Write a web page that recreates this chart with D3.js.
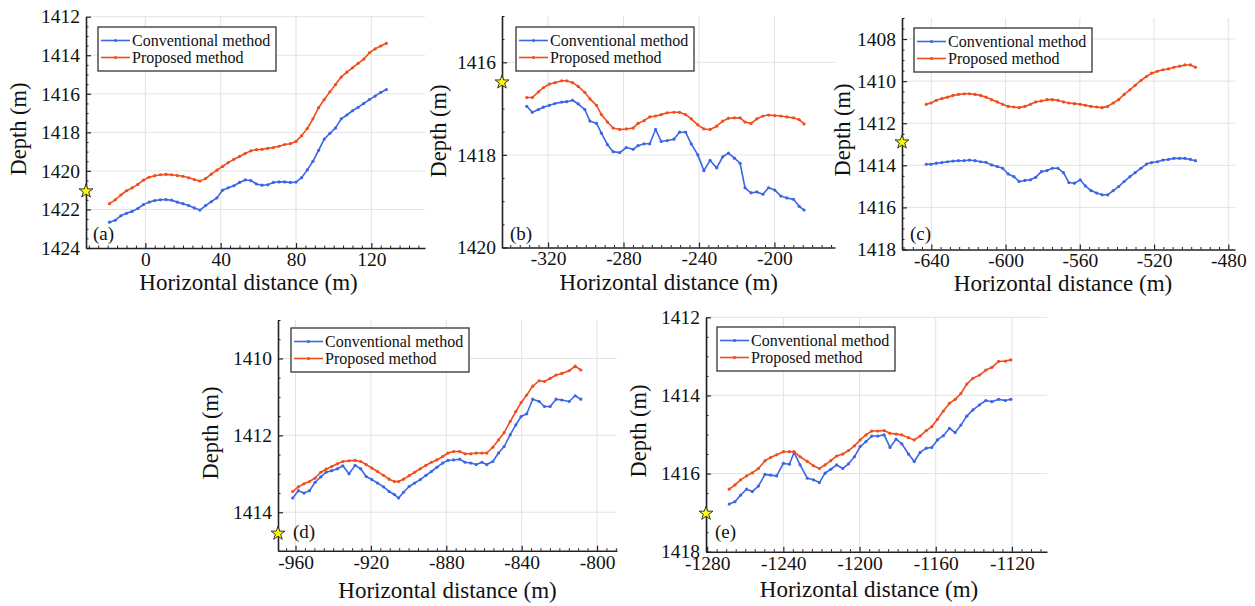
<!DOCTYPE html>
<html>
<head>
<meta charset="utf-8">
<script src="https://cdn.jsdelivr.net/npm/d3@7/dist/d3.min.js"></script>
<style>
  html, body { margin: 0; padding: 0; background: #fff; }
  svg { display: block; }
  text { font-family: "Liberation Serif", "Times New Roman", serif; fill: #111; }
</style>
</head>
<body>
<svg id="chart" width="1255" height="606"></svg>
<script>
// ---------------- DATA ----------------
const seriesNames = ["Conventional method", "Proposed method"];
const panelLabels = ["(a)", "(b)", "(c)", "(d)", "(e)"];
const xTitle = "Horizontal distance (m)";
const yTitle = "Depth (m)";

// panel (a)
const dist_a = [-19,-16,-13,-10,-7,-4,-1,2,5,8,11,14,17,20,23,26,29,32,35,38,41,44,47,50,53,56,59,62,65,68,71,74,77,80,83,86,89,92,95,98,101,104,107,110,113,116,119,122,125,128];
const conv_a = [1422.66,1422.56,1422.33,1422.2,1422.1,1421.95,1421.75,1421.62,1421.54,1421.5,1421.49,1421.52,1421.62,1421.7,1421.8,1421.92,1422.03,1421.8,1421.6,1421.4,1421.0,1420.88,1420.77,1420.6,1420.47,1420.5,1420.68,1420.74,1420.72,1420.6,1420.57,1420.57,1420.6,1420.58,1420.35,1419.95,1419.5,1418.93,1418.35,1418.05,1417.77,1417.3,1417.1,1416.88,1416.7,1416.5,1416.3,1416.12,1415.93,1415.78];
const prop_a = [1421.7,1421.5,1421.25,1421.03,1420.88,1420.7,1420.48,1420.33,1420.25,1420.2,1420.18,1420.2,1420.24,1420.28,1420.36,1420.45,1420.53,1420.4,1420.17,1419.96,1419.77,1419.57,1419.4,1419.25,1419.1,1418.96,1418.9,1418.88,1418.83,1418.79,1418.72,1418.63,1418.59,1418.47,1418.17,1417.8,1417.3,1416.72,1416.3,1415.9,1415.52,1415.13,1414.88,1414.65,1414.42,1414.2,1413.87,1413.67,1413.52,1413.38];
const xTicks_a = [0, 40, 80, 120];
const yTicks_a = [1412, 1414, 1416, 1418, 1420, 1422, 1424];

// panel (b)
const dist_b = [-331.3,-328.3,-325.1,-322.5,-319.3,-316.3,-312.8,-310.1,-307,-304,-300.5,-297.8,-294.3,-291.7,-288.5,-285.5,-282,-278.5,-274.9,-272.3,-269.1,-266.1,-263,-260,-256.8,-253.3,-250.3,-247.1,-244.1,-240.6,-237.4,-234.1,-230.6,-227.4,-224.4,-221.2,-218.2,-215.6,-212.4,-209.3,-206.1,-203.1,-199.8,-196.6,-193.4,-189.9,-186.9,-184.3];
const conv_b = [1416.95,1417.08,1417.02,1416.97,1416.93,1416.89,1416.86,1416.85,1416.82,1416.9,1417.02,1417.27,1417.32,1417.53,1417.78,1417.93,1417.95,1417.84,1417.88,1417.8,1417.76,1417.76,1417.45,1417.71,1417.69,1417.66,1417.51,1417.51,1417.76,1418.0,1418.34,1418.12,1418.28,1418.04,1417.96,1418.07,1418.18,1418.71,1418.82,1418.8,1418.85,1418.71,1418.76,1418.89,1418.93,1418.96,1419.11,1419.19];
const prop_b = [1416.76,1416.76,1416.64,1416.55,1416.47,1416.44,1416.4,1416.4,1416.44,1416.52,1416.65,1416.79,1416.93,1417.13,1417.29,1417.42,1417.45,1417.44,1417.42,1417.32,1417.26,1417.18,1417.16,1417.13,1417.09,1417.08,1417.08,1417.13,1417.22,1417.35,1417.44,1417.45,1417.38,1417.27,1417.21,1417.2,1417.2,1417.29,1417.32,1417.22,1417.16,1417.14,1417.15,1417.16,1417.18,1417.2,1417.24,1417.33];
const xTicks_b = [-320, -280, -240, -200];
const yTicks_b = [1416, 1418, 1420];

// panel (c)
const dist_c = [-642.7,-640.2,-637.3,-634.3,-631.3,-628.4,-625.4,-622.3,-619.5,-616.4,-613.4,-610.5,-607.5,-604.5,-601.6,-598.6,-595.5,-592.7,-589.6,-586.6,-583.8,-580.7,-577.7,-574.8,-571.8,-568.8,-565.9,-562.9,-559.8,-557,-554,-550.9,-548,-545,-542,-539.1,-536.1,-533,-530.2,-527.1,-524.1,-521.3,-518.2,-515.2,-512.3,-509.3,-506.3,-503.4,-500.4,-497.7];
const conv_c = [1413.95,1413.95,1413.9,1413.87,1413.83,1413.8,1413.78,1413.78,1413.75,1413.78,1413.83,1413.86,1413.98,1414.06,1414.14,1414.41,1414.54,1414.77,1414.72,1414.69,1414.57,1414.3,1414.25,1414.14,1414.14,1414.35,1414.82,1414.85,1414.69,1414.98,1415.2,1415.32,1415.4,1415.4,1415.2,1415.01,1414.77,1414.54,1414.35,1414.14,1413.94,1413.87,1413.83,1413.75,1413.72,1413.67,1413.67,1413.67,1413.72,1413.78];
const prop_c = [1411.1,1411.04,1410.91,1410.83,1410.76,1410.68,1410.63,1410.6,1410.6,1410.63,1410.68,1410.76,1410.88,1410.99,1411.1,1411.2,1411.23,1411.26,1411.2,1411.1,1410.99,1410.94,1410.88,1410.88,1410.91,1410.99,1411.04,1411.07,1411.1,1411.15,1411.2,1411.23,1411.26,1411.2,1411.04,1410.88,1410.63,1410.41,1410.2,1409.97,1409.78,1409.62,1409.53,1409.46,1409.42,1409.34,1409.29,1409.23,1409.23,1409.34];
const xTicks_c = [-640, -600, -560, -520, -480];
const yTicks_c = [1408, 1410, 1412, 1414, 1416, 1418];

// panel (d)
const dist_d = [-961.5,-958.5,-955.5,-952.6,-949.6,-946.6,-943.8,-940.8,-937.8,-934.9,-931.6,-928.4,-925.4,-922.5,-919.5,-916.5,-913.3,-910.3,-907.5,-905.3,-902.7,-899.7,-896.8,-893.8,-890.8,-887.9,-885,-881.9,-879.1,-876.1,-872.9,-870,-867,-864.1,-861.1,-858.5,-855.3,-852.3,-849.3,-846.1,-843.1,-840.3,-837.3,-834.1,-830.7,-827.9,-824.9,-821.7,-818.7,-814.8,-811.6,-808.6];
const conv_d = [1413.63,1413.44,1413.5,1413.44,1413.22,1413.08,1412.96,1412.92,1412.87,1412.79,1413.0,1412.78,1412.87,1413.07,1413.15,1413.24,1413.34,1413.46,1413.54,1413.63,1413.48,1413.33,1413.24,1413.15,1413.04,1412.94,1412.83,1412.72,1412.65,1412.64,1412.62,1412.7,1412.72,1412.76,1412.7,1412.76,1412.68,1412.46,1412.29,1411.99,1411.73,1411.51,1411.44,1411.06,1411.12,1411.25,1411.25,1411.06,1411.08,1411.12,1410.97,1411.06];
const prop_d = [1413.46,1413.34,1413.26,1413.2,1413.11,1412.96,1412.88,1412.81,1412.74,1412.68,1412.66,1412.65,1412.68,1412.76,1412.85,1412.94,1413.04,1413.14,1413.2,1413.2,1413.14,1413.05,1412.96,1412.87,1412.78,1412.7,1412.64,1412.55,1412.46,1412.42,1412.42,1412.48,1412.48,1412.46,1412.46,1412.46,1412.31,1412.12,1411.93,1411.64,1411.38,1411.15,1410.95,1410.72,1410.58,1410.6,1410.52,1410.43,1410.39,1410.32,1410.2,1410.3];
const xTicks_d = [-960, -920, -880, -840, -800];
const yTicks_d = [1410, 1412, 1414];

// panel (e)
const dist_e = [-1268.4,-1265.4,-1262.4,-1259.3,-1256.3,-1253.1,-1249.6,-1246.7,-1243.5,-1240,-1236.8,-1234.4,-1231.2,-1227.4,-1224.2,-1221.1,-1218.1,-1215.1,-1212,-1208.8,-1205.8,-1202.7,-1199.7,-1196.6,-1193.6,-1190.4,-1187.1,-1184,-1180.8,-1177.8,-1174.3,-1171.3,-1168.2,-1165,-1162.1,-1159.1,-1156,-1152.8,-1149.8,-1146.8,-1143.7,-1140.5,-1137,-1133.7,-1130.5,-1127,-1123.5,-1120.6];
const conv_e = [1416.78,1416.72,1416.55,1416.4,1416.46,1416.32,1416.02,1416.04,1416.06,1415.74,1415.76,1415.46,1415.78,1416.12,1416.16,1416.23,1415.99,1415.89,1415.78,1415.87,1415.75,1415.57,1415.31,1415.18,1415.04,1415.04,1415.01,1415.33,1415.12,1415.24,1415.5,1415.69,1415.46,1415.35,1415.33,1415.14,1415.03,1414.84,1414.95,1414.76,1414.53,1414.37,1414.24,1414.13,1414.16,1414.1,1414.13,1414.1];
const prop_e = [1416.4,1416.29,1416.16,1416.06,1415.98,1415.87,1415.67,1415.59,1415.52,1415.44,1415.44,1415.44,1415.57,1415.69,1415.8,1415.87,1415.78,1415.67,1415.55,1415.5,1415.41,1415.29,1415.14,1415.01,1414.91,1414.91,1414.9,1414.97,1414.99,1415.01,1415.08,1415.14,1415.04,1414.9,1414.8,1414.61,1414.4,1414.2,1414.1,1413.95,1413.71,1413.56,1413.48,1413.35,1413.28,1413.13,1413.12,1413.09];
const xTicks_e = [-1280, -1240, -1200, -1160, -1120];
const yTicks_e = [1412, 1414, 1416, 1418];

// star marker depth on the left axis of each panel
const starDepth = [1421.05, 1416.43, 1412.9, 1414.55, 1417.02];

// ---------------- LAYOUT / STYLE ----------------
const colors = ["#3a66e6", "#f04c1c"];
const panels = [
  { dist: dist_a, conv: conv_a, prop: prop_a, xTicks: xTicks_a, yTicks: yTicks_a,
    xd: [-31.5, 148.5], yd: [1412, 1424], xr: [86, 425], yr: [16.7, 248],
    leg: [98, 27], lab: [93, 240], xt: [248.5, 290], yt: [18, 129] },
  { dist: dist_b, conv: conv_b, prop: prop_b, xTicks: xTicks_b, yTicks: yTicks_b,
    xd: [-344.4, -167.9], yd: [1415, 1420], xr: [502, 835], yr: [16, 247.5],
    leg: [516, 27], lab: [510, 240], xt: [668.8, 290], yt: [438, 131] },
  { dist: dist_c, conv: conv_c, prop: prop_c, xTicks: xTicks_c, yTicks: yTicks_c,
    xd: [-655.8, -476.4], yd: [1407, 1418], xr: [902, 1235], yr: [18, 249.5],
    leg: [914, 28], lab: [910, 240], xt: [1063, 291], yt: [842, 130] },
  { dist: dist_d, conv: conv_d, prop: prop_d, xTicks: xTicks_d, yTicks: yTicks_d,
    xd: [-969.3, -789.4], yd: [1409, 1415], xr: [278, 617], yr: [320, 550.7],
    leg: [291, 328], lab: [293, 538], xt: [447.5, 598], yt: [210, 433] },
  { dist: dist_e, conv: conv_e, prop: prop_e, xTicks: xTicks_e, yTicks: yTicks_e,
    xd: [-1280.6, -1101.6], yd: [1412, 1418], xr: [706, 1047], yr: [317.3, 551.7],
    leg: [717, 327], lab: [715, 538], xt: [869, 597], yt: [638, 431] }
];

const svg = d3.select("#chart");

panels.forEach((p, i) => {
  const g = svg.append("g");
  const x = d3.scaleLinear().domain(p.xd).range(p.xr);
  const y = d3.scaleLinear().domain(p.yd).range(p.yr);
  const [x0, x1] = p.xr, [y0, y1] = p.yr;

  // grid
  g.append("g").selectAll("line").data(p.xTicks.filter(t => x(t) > x0 + 1 && x(t) <= x1 + 0.5))
    .join("line").attr("x1", d => x(d)).attr("x2", d => x(d)).attr("y1", y0).attr("y2", y1)
    .attr("stroke", "#e3e3e3").attr("stroke-width", 1);
  g.append("g").selectAll("line").data(p.yTicks.filter(t => y(t) < y1 - 1))
    .join("line").attr("x1", x0).attr("x2", x1).attr("y1", d => y(d)).attr("y2", d => y(d))
    .attr("stroke", "#e3e3e3").attr("stroke-width", 1);

  // minor ticks
  const xMinor = d3.range(Math.ceil(p.xd[0] / 5) * 5, p.xd[1] + 0.001, 5).filter(v => !p.xTicks.includes(v));
  const yMinor = d3.range(Math.ceil(p.yd[0] * 2) / 2, p.yd[1] + 0.001, 0.5).filter(v => !p.yTicks.includes(v));
  g.append("g").attr("transform", `translate(0,${y1})`)
    .call(d3.axisBottom(x).tickValues(xMinor).tickSizeInner(-2.5).tickSizeOuter(0).tickFormat(""))
    .call(s => s.select(".domain").remove())
    .selectAll("line").attr("stroke", "#222").attr("stroke-width", 1);
  g.append("g").attr("transform", `translate(${x0},0)`)
    .call(d3.axisLeft(y).tickValues(yMinor).tickSizeInner(-2.5).tickSizeOuter(0).tickFormat(""))
    .call(s => s.select(".domain").remove())
    .selectAll("line").attr("stroke", "#222").attr("stroke-width", 1);

  // major axes
  const ax = g.append("g").attr("transform", `translate(0,${y1})`)
    .call(d3.axisBottom(x).tickValues(p.xTicks).tickSizeInner(-5).tickSizeOuter(0).tickPadding(4).tickFormat(d => String(d)));
  const ay = g.append("g").attr("transform", `translate(${x0},0)`)
    .call(d3.axisLeft(y).tickValues(p.yTicks).tickSizeInner(-5).tickSizeOuter(0).tickPadding(6).tickFormat(d => String(d)));
  [ax, ay].forEach(a => {
    a.select(".domain").attr("stroke", "#222").attr("stroke-width", 1.6);
    a.selectAll(".tick line").attr("stroke", "#222").attr("stroke-width", 1.2);
    a.selectAll(".tick text").attr("font-size", 19.5).attr("fill", "#111");
  });

  // lines with dot markers
  [p.conv, p.prop].forEach((vals, k) => {
    const pts = p.dist.map((d, j) => [d, vals[j]]);
    g.append("path").datum(pts)
      .attr("fill", "none").attr("stroke", colors[k]).attr("stroke-width", 1.6)
      .attr("stroke-linejoin", "round")
      .attr("d", d3.line().x(d => x(d[0])).y(d => y(d[1])));
    g.append("g").selectAll("circle").data(pts).join("circle")
      .attr("cx", d => x(d[0])).attr("cy", d => y(d[1])).attr("r", 1.6)
      .attr("fill", colors[k]);
  });

  // legend
  const [lx, ly] = p.leg;
  const lg = g.append("g").attr("transform", `translate(${lx},${ly})`);
  lg.append("rect").attr("width", 178).attr("height", 44)
    .attr("fill", "#fff").attr("stroke", "#333").attr("stroke-width", 1.3);
  seriesNames.forEach((name, k) => {
    const cy = 13.5 + k * 17;
    lg.append("line").attr("x1", 3).attr("x2", 32).attr("y1", cy).attr("y2", cy)
      .attr("stroke", colors[k]).attr("stroke-width", 1.6);
    lg.append("circle").attr("cx", 17.5).attr("cy", cy).attr("r", 1.6).attr("fill", colors[k]);
    lg.append("text").attr("x", 34).attr("y", cy).attr("dy", "0.33em")
      .attr("font-size", 16).text(name);
  });

  // panel label
  g.append("text").attr("x", p.lab[0]).attr("y", p.lab[1]).attr("font-size", 19).text(panelLabels[i]);

  // star
  g.append("path")
    .attr("d", d3.symbol(d3.symbolStar).size(60)())
    .attr("transform", `translate(${x0},${y(starDepth[i])})`)
    .attr("fill", "#ffff00").attr("stroke", "#333").attr("stroke-width", 1);

  // axis titles
  g.append("text").attr("x", p.xt[0]).attr("y", p.xt[1]).attr("text-anchor", "middle")
    .attr("font-size", 23).text(xTitle);
  g.append("text").attr("transform", `translate(${p.yt[0]},${p.yt[1]}) rotate(-90)`)
    .attr("text-anchor", "middle").attr("dy", "0.35em").attr("font-size", 22.5).text(yTitle);
});
</script>
</body>
</html>
